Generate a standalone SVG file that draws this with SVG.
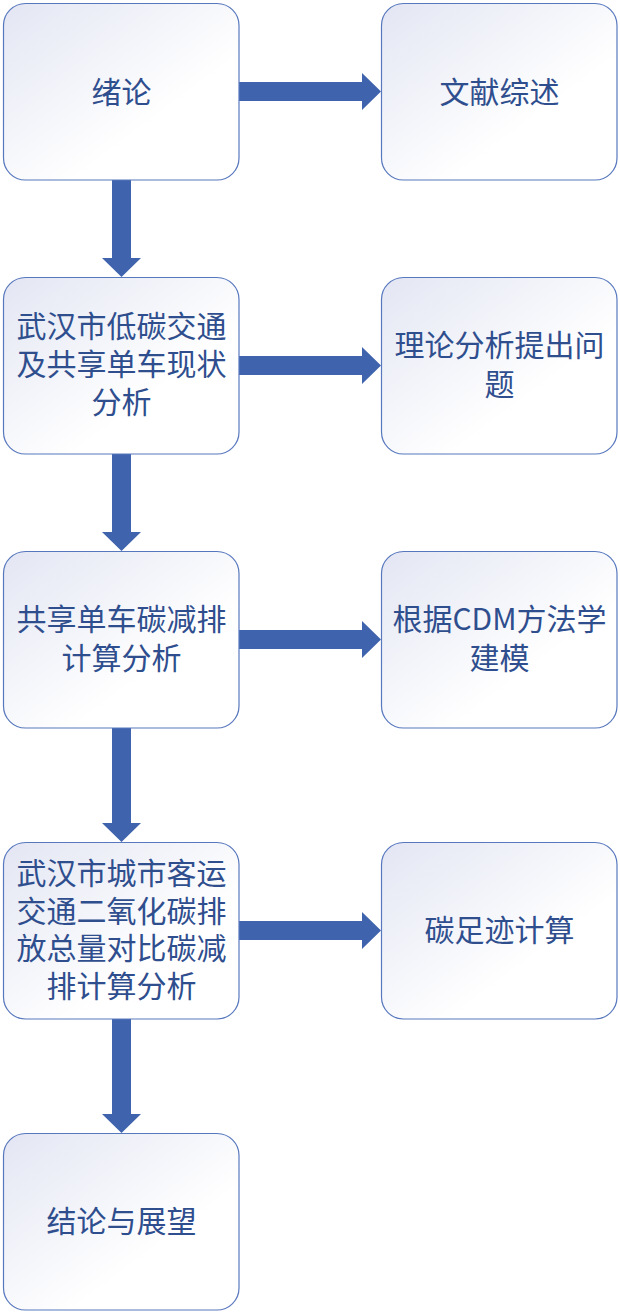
<svg xmlns="http://www.w3.org/2000/svg" width="620" height="1312" viewBox="0 0 620 1312">
<defs>
<linearGradient id="g" x1="0" y1="0" x2="1" y2="1">
<stop offset="0" stop-color="#E3E6F3"/>
<stop offset="0.65" stop-color="#FFFFFF"/>
<stop offset="1" stop-color="#FFFFFF"/>
</linearGradient>
<style>
.box{fill:url(#g);stroke:#5878BE;stroke-width:1.2}
.t{font-family:"Noto Sans CJK SC","Liberation Sans",sans-serif;font-size:30px;fill:#2F4E8E;text-anchor:middle}
.a{fill:#3F63AC}
</style>
</defs>
<rect width="620" height="1312" fill="#FFFFFF"/>
<g id="connectors">
<polygon class="a" points="112,180 131,180 131,258 141,258 121.5,277 102,258 112,258"/>
<polygon class="a" points="112,454 131,454 131,532 141,532 121.5,551 102,532 112,532"/>
<polygon class="a" points="112,728 131,728 131,823 141,823 121.5,842 102,823 112,823"/>
<polygon class="a" points="112,1019 131,1019 131,1114 141,1114 121.5,1133 102,1114 112,1114"/>
<polygon class="a" points="239,82 362,82 362,73 381,91.5 362,110 362,101 239,101"/>
<polygon class="a" points="239,356 362,356 362,347 381,365.5 362,384 362,375 239,375"/>
<polygon class="a" points="239,630 362,630 362,621 381,639.5 362,658 362,649 239,649"/>
<polygon class="a" points="239,921 362,921 362,912 381,930.5 362,949 362,940 239,940"/>
</g>
<g id="n1"><rect class="box" x="3.5" y="3.5" width="235.5" height="176.5" rx="22"/><text class="t" x="121.5" y="103">绪论</text></g>
<g id="n2"><rect class="box" x="381.5" y="3.5" width="235.5" height="176.5" rx="22"/><text class="t" x="499.5" y="103">文献综述</text></g>
<g id="n3"><rect class="box" x="3.5" y="277.5" width="235.5" height="176.5" rx="22"/><text class="t" x="121.5" y="337">武汉市低碳交通</text><text class="t" x="121.5" y="375">及共享单车现状</text><text class="t" x="121.5" y="413">分析</text></g>
<g id="n4"><rect class="box" x="381.5" y="277.5" width="235.5" height="176.5" rx="22"/><text class="t" x="499.5" y="356">理论分析提出问</text><text class="t" x="499.5" y="395">题</text></g>
<g id="n5"><rect class="box" x="3.5" y="551.5" width="235.5" height="176.5" rx="22"/><text class="t" x="121.5" y="630">共享单车碳减排</text><text class="t" x="121.5" y="669">计算分析</text></g>
<g id="n6"><rect class="box" x="381.5" y="551.5" width="235.5" height="176.5" rx="22"/><text class="t" x="499.5" y="630">根据CDM方法学</text><text class="t" x="499.5" y="669">建模</text></g>
<g id="n7"><rect class="box" x="3.5" y="842.5" width="235.5" height="176.5" rx="22"/><text class="t" x="121.5" y="884">武汉市城市客运</text><text class="t" x="121.5" y="922">交通二氧化碳排</text><text class="t" x="121.5" y="959">放总量对比碳减</text><text class="t" x="121.5" y="997">排计算分析</text></g>
<g id="n8"><rect class="box" x="381.5" y="842.5" width="235.5" height="176.5" rx="22"/><text class="t" x="499.5" y="941">碳足迹计算</text></g>
<g id="n9"><rect class="box" x="3.5" y="1133.5" width="235.5" height="176.5" rx="22"/><text class="t" x="121.5" y="1232">结论与展望</text></g>
</svg>
